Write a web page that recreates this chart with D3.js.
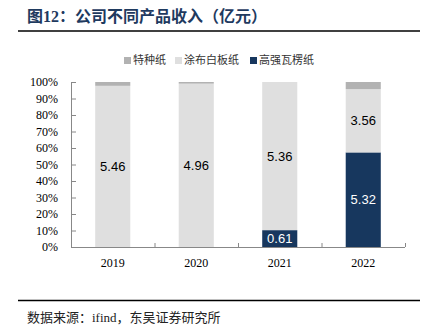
<!DOCTYPE html>
<html>
<head>
<meta charset="utf-8">
<script src="https://cdn.jsdelivr.net/npm/d3@7"></script>
<style>
  body { margin: 0; background: #fff; }
  svg { display: block; }
</style>
</head>
<body>
<svg id="chart" width="433" height="334"></svg>
<script>
// data (亿元)
const years = ['2019', '2020', '2021', '2022'];
const series = ['特种纸', '涂布白板纸', '高强瓦楞纸'];
const tezhong = [0.13, 0.05, 0, 0.4];
const tubu = [5.46, 4.96, 5.36, 3.56];
const wengleng = [0, 0, 0.61, 5.32];
const colors = ['#b2b2b2', '#dfdfdf', '#17375e'];

const svg = d3.select('#chart');
const serif = '"Liberation Serif", "Noto Sans CJK SC", serif';

// title + rules
svg.append('text')
  .attr('x', 27).attr('y', 22)
  .attr('font-family', serif)
  .attr('font-weight', 'bold')
  .attr('font-size', 16)
  .attr('fill', '#1f3a5f')
  .text('图12：公司不同产品收入（亿元）');

svg.append('line')
  .attr('x1', 18).attr('x2', 420).attr('y1', 31).attr('y2', 31)
  .attr('stroke', '#000').attr('stroke-width', 1.5);

svg.append('line')
  .attr('x1', 18).attr('x2', 420).attr('y1', 300.5).attr('y2', 300.5)
  .attr('stroke', '#000').attr('stroke-width', 1.5);

svg.append('text')
  .attr('x', 27).attr('y', 322)
  .attr('font-family', serif)
  .attr('font-size', 13)
  .attr('fill', '#222')
  .text('数据来源：ifind，东吴证券研究所');

// rows -> stacked percentages (高强瓦楞纸 at the bottom)
const rows = years.map((yr, i) => {
  const total = tezhong[i] + tubu[i] + wengleng[i];
  return {year: yr, '高强瓦楞纸': wengleng[i] / total, '涂布白板纸': tubu[i] / total, '特种纸': tezhong[i] / total,
    raw: {'高强瓦楞纸': wengleng[i], '涂布白板纸': tubu[i], '特种纸': tezhong[i]}};
});
const stackKeys = ['高强瓦楞纸', '涂布白板纸', '特种纸'];
const color = d3.scaleOrdinal().domain(series).range(colors);
const stacked = d3.stack().keys(stackKeys)(rows);

const x = d3.scaleBand().domain(years).range([71, 405]).paddingInner(0.58).paddingOuter(0.29);
const y = d3.scaleLinear().domain([0, 1]).range([247, 82]);

// y axis
const yAxis = svg.append('g')
  .attr('transform', 'translate(71,0)')
  .call(d3.axisLeft(y).ticks(10).tickFormat(d3.format('.0%')).tickSize(5));
yAxis.select('.domain').attr('stroke', '#888').attr('d', 'M0.5,82V247.5');
yAxis.selectAll('.tick line').attr('stroke', '#888').attr('x1', 0).attr('x2', 5);
yAxis.selectAll('.tick text').attr('x', -13)
  .attr('font-family', serif).attr('font-size', 12).attr('fill', '#000');

// x axis, ticks between categories
const xAxisG = svg.append('g').attr('transform', 'translate(0,247)');
xAxisG.append('line').attr('x1', 71).attr('x2', 405).attr('y1', 0.5).attr('y2', 0.5).attr('stroke', '#888');
const step = (405 - 71) / years.length;
xAxisG.selectAll('.xt').data(d3.range(years.length + 1)).join('line')
  .attr('x1', i => 71 + i * step + 0.5).attr('x2', i => 71 + i * step + 0.5)
  .attr('y1', 0).attr('y2', -4).attr('stroke', '#888');
xAxisG.selectAll('.xl').data(years).join('text')
  .attr('x', d => x(d) + x.bandwidth() / 2)
  .attr('y', 20)
  .attr('text-anchor', 'middle')
  .attr('font-family', serif).attr('font-size', 12).attr('fill', '#000')
  .text(d => d);

// bars
const layers = svg.append('g').selectAll('g').data(stacked).join('g')
  .attr('fill', d => color(d.key));
layers.selectAll('rect').data(d => d).join('rect')
  .attr('x', d => x(d.data.year))
  .attr('width', x.bandwidth())
  .attr('y', d => y(d[1]))
  .attr('height', d => y(d[0]) - y(d[1]));

// value labels
stacked.forEach(layer => {
  if (layer.key === '特种纸') return;
  svg.append('g').selectAll('text').data(layer.filter(d => d.data.raw[layer.key] > 0)).join('text')
    .attr('x', d => x(d.data.year) + x.bandwidth() / 2)
    .attr('y', d => (y(d[0]) + y(d[1])) / 2 + 4.5)
    .attr('text-anchor', 'middle')
    .attr('font-family', '"Liberation Sans", Arial, sans-serif')
    .attr('font-size', 13)
    .attr('fill', layer.key === '高强瓦楞纸' ? '#fff' : '#000')
    .text(d => d3.format('.2f')(d.data.raw[layer.key]));
});

// legend
const legendItems = [
  {key: '特种纸', x: 124},
  {key: '涂布白板纸', x: 175},
  {key: '高强瓦楞纸', x: 250}
];
const lg = svg.append('g').selectAll('g').data(legendItems).join('g')
  .attr('transform', d => `translate(${d.x},56)`);
lg.append('rect').attr('width', 7).attr('height', 7).attr('y', 1).attr('fill', d => color(d.key));
lg.append('text').attr('x', 9).attr('y', 8)
  .attr('font-family', serif).attr('font-size', 11).attr('fill', '#333')
  .text(d => d.key);
</script>
</body>
</html>
